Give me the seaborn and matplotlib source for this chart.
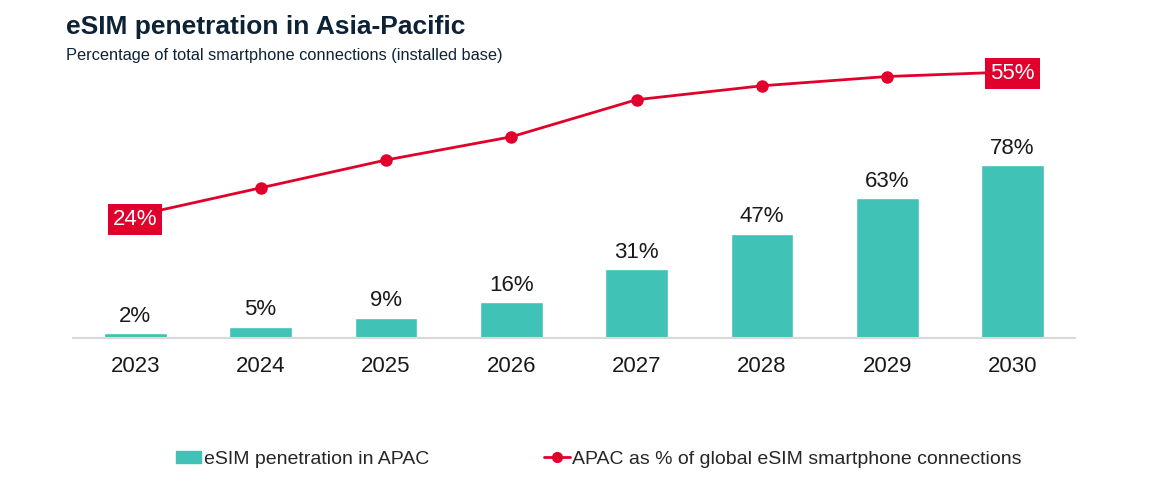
import numpy as np
import pandas as pd
import seaborn as sns
import matplotlib.pyplot as plt
from matplotlib.patches import Patch
from matplotlib.lines import Line2D

years = ['2023', '2024', '2025', '2026', '2027', '2028', '2029', '2030']
penetration = [2, 5, 9, 16, 31, 47, 63, 78]
apac_share = [24, 30, 36, 41, 49, 52, 54, 55]

teal = '#40c2b6'
red = '#e0002b'
navy = '#0e2236'

sns.set_theme(style='white')
plt.rcParams['font.family'] = ['Liberation Sans', 'DejaVu Sans']

df = pd.DataFrame({'year': years, 'pen': penetration, 'share': apac_share})

fig = plt.figure(figsize=(11.7, 4.86), dpi=100)
ax = fig.add_axes([0.062, 0.305, 0.857, 0.592])

sns.barplot(data=df, x='year', y='pen', color=teal, width=0.5, saturation=1, ax=ax)
ax.set_ylim(0, 130)
ax.set_xlim(-0.5, 7.5)

for i, v in enumerate(penetration):
    ax.text(i, v + 3, f'{v}%', ha='center', va='bottom', fontsize=16, color='#1a1a1a')

# line on a second axis
ax2 = ax.twinx()
sns.lineplot(x=np.arange(len(years)), y=apac_share, ax=ax2, color=red, linewidth=2,
             marker='o', markersize=9, markeredgewidth=0)
ax2.set_ylim(-2.3, 59.7)
ax2.set_xlim(-0.5, 7.5)

for i in [0, len(years) - 1]:
    ax2.text(i, apac_share[i] - 0.8 if i == 0 else apac_share[i] - 0.4, f'{apac_share[i]}%',
             ha='center', va='center', fontsize=16, color='white',
             bbox=dict(boxstyle='square,pad=0.22', fc=red, ec='none'))

for a in (ax, ax2):
    a.set_xlabel('')
    a.set_ylabel('')
    a.set_yticks([])
    for s in a.spines.values():
        s.set_visible(False)
ax.spines['bottom'].set_visible(True)
ax.spines['bottom'].set_color('#d9d9d9')
ax.spines['bottom'].set_linewidth(1.5)
ax.tick_params(axis='x', length=0, labelsize=16, pad=13, colors='#1a1a1a')

fig.text(0.056, 0.945, 'eSIM penetration in Asia-Pacific', fontsize=19, fontweight='bold',
         color=navy, va='center')
fig.text(0.056, 0.885, 'Percentage of total smartphone connections (installed base)',
         fontsize=11.8, color=navy, va='center')

handles = [Patch(color=teal, label='eSIM penetration in APAC'),
           Line2D([0], [0], color=red, lw=2, marker='o', markersize=7,
                  label='APAC as % of global eSIM smartphone connections')]
fig.legend(handles=handles, loc='center', bbox_to_anchor=(0.512, 0.055), ncol=2,
           frameon=False, fontsize=14, handlelength=1.3, handleheight=0.6,
           handletextpad=0.15, columnspacing=5.9)

fig.savefig('out.png', dpi=100)
